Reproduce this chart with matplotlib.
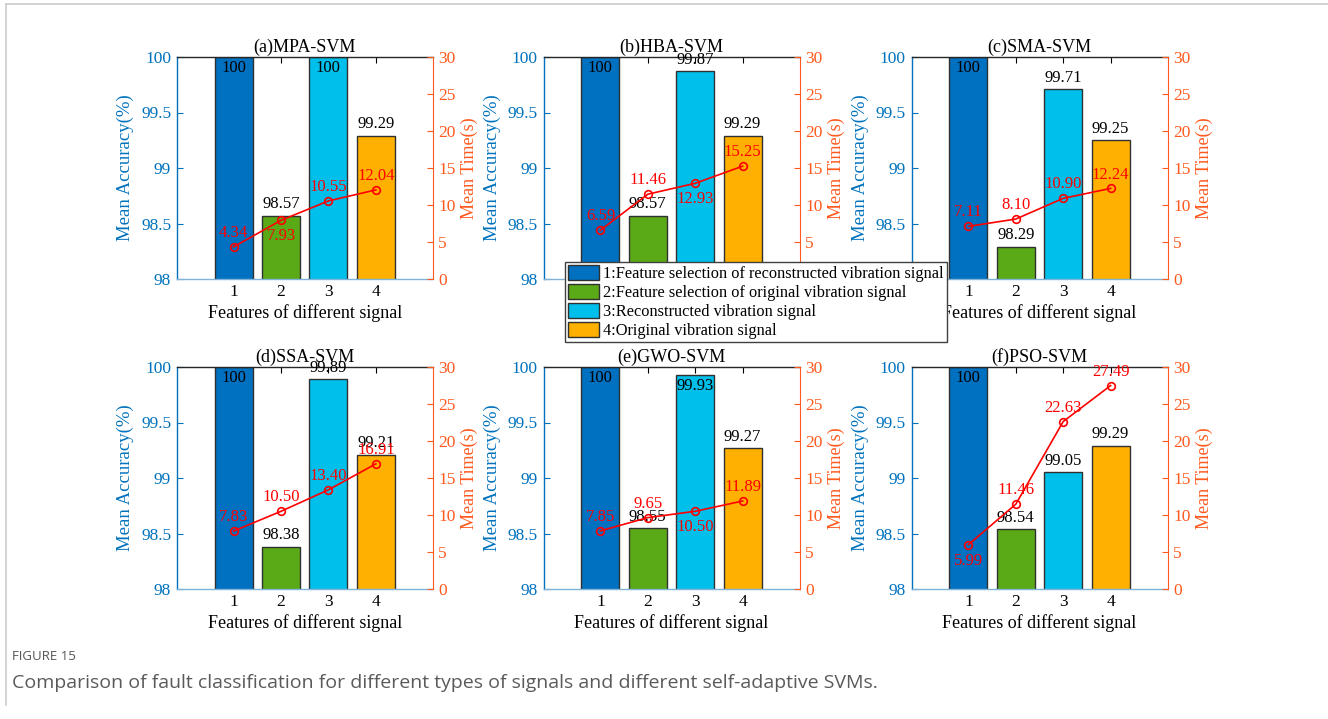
import numpy as np
import matplotlib
matplotlib.use("Agg")
import matplotlib.pyplot as plt
from matplotlib.patches import Patch
from matplotlib.lines import Line2D

plt.rcParams['font.family'] = ['Liberation Serif', 'DejaVu Serif']
plt.rcParams['font.size'] = 12

# data
features = [1, 2, 3, 4]
titles = ['(a)MPA-SVM', '(b)HBA-SVM', '(c)SMA-SVM', '(d)SSA-SVM', '(e)GWO-SVM', '(f)PSO-SVM']
acc_mpa = [100, 98.57, 100, 99.29]
acc_hba = [100, 98.57, 99.87, 99.29]
acc_sma = [100, 98.29, 99.71, 99.25]
acc_ssa = [100, 98.38, 99.89, 99.21]
acc_gwo = [100, 98.55, 99.93, 99.27]
acc_pso = [100, 98.54, 99.05, 99.29]
time_mpa = [4.34, 7.93, 10.55, 12.04]
time_hba = [6.59, 11.46, 12.93, 15.25]
time_sma = [7.11, 8.10, 10.90, 12.24]
time_ssa = [7.83, 10.50, 13.40, 16.91]
time_gwo = [7.85, 9.65, 10.50, 11.89]
time_pso = [5.99, 11.46, 22.63, 27.49]
# which time labels sit below the marker
below_mpa = [0, 1, 0, 0]
below_hba = [0, 0, 1, 0]
below_sma = [0, 0, 0, 0]
below_ssa = [0, 0, 0, 0]
below_gwo = [0, 0, 1, 0]
below_pso = [1, 0, 0, 0]
legend_labels = ['1:Feature selection of reconstructed vibration signal',
                 '2:Feature selection of original vibration signal',
                 '3:Reconstructed vibration signal',
                 '4:Original vibration signal']

accs = [acc_mpa, acc_hba, acc_sma, acc_ssa, acc_gwo, acc_pso]
times = [time_mpa, time_hba, time_sma, time_ssa, time_gwo, time_pso]
belows = [below_mpa, below_hba, below_sma, below_ssa, below_gwo, below_pso]

bar_colors = ['#0070C0', '#5AAA18', '#00BFEA', '#FFB000']
blue = '#0072BD'
orange = '#FF5A1E'
red = '#FF0000'

fig = plt.figure(figsize=(13.28, 7.19), dpi=100)

lefts = [176.7 / 1328, 543.5 / 1328, 911.5 / 1328]
bottoms = [1 - 279 / 719, 1 - 589 / 719]
w = 256 / 1328
h = 222 / 719

for i in range(6):
    ax = fig.add_axes([lefts[i % 3], bottoms[i // 3], w, h])
    acc = accs[i]
    t = times[i]
    ax.bar(features, acc, width=0.8, color=bar_colors, edgecolor='#303030', linewidth=1.0, zorder=2)
    ax.set_ylim(98, 100)
    ax.set_xlim(-0.2, 5.2)
    ax.set_xticks(features)
    ax.set_yticks([98, 98.5, 99, 99.5, 100])
    ax.set_yticklabels(['98', '98.5', '99', '99.5', '100'])
    ax.tick_params(axis='y', colors=blue, direction='in', length=4, labelsize=12.5, pad=4)
    ax.tick_params(axis='x', direction='in', length=4, top=True, labelsize=12.5)
    ax.spines['left'].set_color(blue)
    ax.spines['bottom'].set_color('#7fb3d9')
    ax.spines['top'].set_color('#262626')
    ax.spines['right'].set_visible(False)
    for s in ax.spines.values():
        s.set_linewidth(1.0)
    ax.set_ylabel('Mean Accuracy(%)', color=blue, fontsize=13.5, labelpad=5)
    ax.set_xlabel('Features of different signal', fontsize=13, labelpad=3)
    ax.set_title(titles[i], fontsize=13, pad=4)
    for x, v in zip(features, acc):
        lab = '100' if v == 100 else '%.2f' % v
        if v >= 99.9:
            ax.text(x, v - 0.03, lab, ha='center', va='top', fontsize=12, zorder=5)
        else:
            ax.text(x, v + 0.03, lab, ha='center', va='bottom', fontsize=12, zorder=5)

    ax2 = ax.twinx()
    ax2.set_ylim(0, 30)
    ax2.set_yticks(range(0, 31, 5))
    ax2.plot(features, t, color=red, linewidth=1.2, marker='o', markersize=5.5,
             markerfacecolor='none', markeredgecolor=red, markeredgewidth=1.2)
    ax2.tick_params(axis='y', colors=orange, direction='in', length=4, labelsize=12.5, pad=4)
    ax2.spines['right'].set_color(orange)
    ax2.spines['left'].set_visible(False)
    ax2.spines['top'].set_visible(False)
    ax2.spines['bottom'].set_visible(False)
    ax2.set_ylabel('Mean Time(s)', color=orange, fontsize=13, labelpad=4)
    for x, v, b in zip(features, t, belows[i]):
        if b:
            ax2.text(x, v - 1.1, '%.2f' % v, ha='center', va='top', color=red, fontsize=12)
        else:
            ax2.text(x, v + 0.8, '%.2f' % v, ha='center', va='bottom', color=red, fontsize=12)

handles = [Patch(facecolor=c, edgecolor='#303030', linewidth=1.0) for c in bar_colors]
leg = fig.legend(handles, legend_labels, loc='upper left',
                 bbox_to_anchor=(565 / 1328, 1 - 262 / 719), borderaxespad=0,
                 fontsize=11.8, frameon=True, fancybox=False, handlelength=1.9,
                 handleheight=1.0, labelspacing=0.12, handletextpad=0.2,
                 borderpad=0.2, framealpha=1)
leg.get_frame().set_edgecolor('#404040')
leg.get_frame().set_linewidth(1.0)

# page frame and caption
fig.add_artist(Line2D([6 / 1328, 6 / 1328], [0.02, 1 - 4 / 719], color='#cccccc', linewidth=1.2))
fig.add_artist(Line2D([6 / 1328, 1.0], [1 - 4 / 719, 1 - 4 / 719], color='#cccccc', linewidth=1.2))
fig.text(12 / 1328, 1 - 656 / 719, 'FIGURE 15', fontsize=9.5, color='#555555',
         family=['Open Sans', 'DejaVu Sans'], va='center')
fig.text(12 / 1328, 1 - 683 / 719,
         'Comparison of fault classification for different types of signals and different self-adaptive SVMs.',
         fontsize=14, color='#5a5a5a', family=['Open Sans', 'DejaVu Sans'], va='center')

fig.savefig('out.png', dpi=100)
